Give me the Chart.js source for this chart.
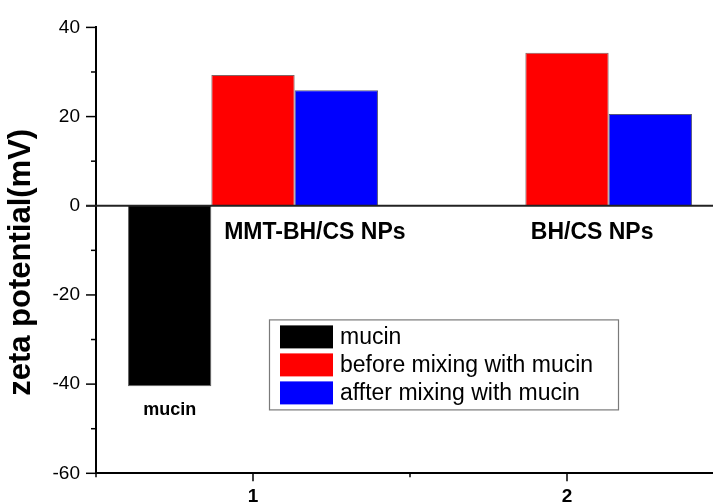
<!DOCTYPE html>
<html>
<head>
<meta charset="utf-8">
<script src="https://cdn.jsdelivr.net/npm/chart.js@4/dist/chart.umd.min.js"></script>
<style>
  html, body { margin: 0; padding: 0; background: #fff; overflow: hidden; width: 713px; height: 503px; }
  canvas { display: block; }
</style>
</head>
<body>
<canvas id="chart" width="740" height="503"></canvas>
<script>
// Zeta potential of mucin and of the two nanoparticle samples before / after mixing with mucin
const groups = ['1', '2'];
const seriesNames = ['mucin', 'before mixing with mucin', 'affter mixing with mucin'];
const mucinValues = [-40.5, null];
const beforeValues = [29.3, 34.3];
const afterValues = [25.9, 20.6];
const yMajorTicks = [-60, -40, -20, 0, 20, 40];
const yMinorTicks = [-50, -30, -10, 10, 30];
const xMinorTicks = [-0.5, 0.5, 1.5];
const sampleLabels = ['MMT-BH/CS NPs', 'BH/CS NPs', 'mucin'];
const sampleLabelAnchors = [[0.197, -7.5], [1.08, -7.5], [-0.265, -47]];

const FONT = '"Liberation Sans", Arial, sans-serif';
const seriesColors = ['#000000', '#ff0000', '#0000ff'];

// tick marks, zero line, in-plot labels, boxed legend and the rotated y title
const decor = {
  id: 'decor',
  afterDraw(chart) {
    const { ctx, chartArea: a, scales: { x, y } } = chart;
    ctx.save();
    ctx.strokeStyle = '#000';
    ctx.lineWidth = 1.5;
    const seg = (x1, y1, x2, y2) => { ctx.beginPath(); ctx.moveTo(x1, y1); ctx.lineTo(x2, y2); ctx.stroke(); };

    yMajorTicks.forEach(v => { const py = y.getPixelForValue(v); seg(a.left - 10, py, a.left, py); });
    yMinorTicks.forEach(v => { const py = y.getPixelForValue(v); seg(a.left - 5, py, a.left, py); });
    groups.forEach((g, i) => { const px = x.getPixelForValue(i); seg(px, a.bottom, px, a.bottom + 8); });
    xMinorTicks.forEach(v => { const px = x.getPixelForValue(v); seg(px, a.bottom, px, a.bottom + 4); });

    // zero reference line
    ctx.strokeStyle = '#222';
    ctx.lineWidth = 2;
    const y0 = y.getPixelForValue(0);
    seg(a.left - 10, y0, a.right, y0);

    // sample names inside the plot
    ctx.fillStyle = '#000';
    ctx.textAlign = 'center';
    ctx.textBaseline = 'alphabetic';
    sampleLabels.forEach((t, i) => {
      const [vx, vy] = sampleLabelAnchors[i];
      ctx.font = (i === 2 ? 'bold 18px ' : 'bold 23px ') + FONT;
      ctx.fillText(t, x.getPixelForValue(vx), y.getPixelForValue(vy));
    });

    // legend box
    const lx = a.left + 173, ly = a.top + 292, lw = 349, lh = 90;
    ctx.fillStyle = '#fff';
    ctx.fillRect(lx, ly, lw, lh);
    ctx.strokeStyle = '#7a7a7a';
    ctx.lineWidth = 1.2;
    ctx.strokeRect(lx + 0.5, ly + 0.5, lw, lh);
    ctx.font = '23px ' + FONT;
    ctx.textAlign = 'left';
    chart.data.datasets.forEach((ds, i) => {
      const sy = ly + 6 + i * 28;
      ctx.fillStyle = ds.backgroundColor;
      ctx.fillRect(lx + 11, sy, 53, 23);
      ctx.fillStyle = '#000';
      ctx.fillText(ds.label, lx + 71, sy + 18.5);
    });

    // y axis title
    ctx.translate(21, (a.top + a.bottom) / 2 + 12);
    ctx.rotate(-Math.PI / 2);
    ctx.font = 'bold 31px ' + FONT;
    ctx.textAlign = 'center';
    ctx.textBaseline = 'middle';
    ctx.fillStyle = '#000';
    ctx.fillText('zeta potential(mV)', 0, 0);
    ctx.restore();
  }
};

new Chart(document.getElementById('chart'), {
  type: 'bar',
  data: {
    labels: groups,
    datasets: [
      { label: seriesNames[0], data: mucinValues, backgroundColor: seriesColors[0], borderColor: 'rgba(80,80,80,0.9)', borderWidth: 1 },
      { label: seriesNames[1], data: beforeValues, backgroundColor: seriesColors[1], borderColor: 'rgba(90,50,50,0.75)', borderWidth: 1 },
      { label: seriesNames[2], data: afterValues, backgroundColor: seriesColors[2], borderColor: 'rgba(30,30,80,0.75)', borderWidth: 1 }
    ]
  },
  options: {
    responsive: false,
    animation: false,
    devicePixelRatio: 1,
    layout: { padding: { top: 23, right: 16, left: 0, bottom: 0 } },
    datasets: { bar: { categoryPercentage: 0.796, barPercentage: 1.0 } },
    plugins: { legend: { display: false }, tooltip: { enabled: false } },
    scales: {
      x: {
        grid: { display: false, drawTicks: false },
        border: { display: true, color: '#000', width: 2 },
        ticks: { color: '#000', font: { family: FONT, size: 19, weight: 'bold' }, padding: 12, maxRotation: 0 },
        afterFit(s) { s.height = 29.7; }
      },
      y: {
        min: -60,
        max: 40,
        grid: { display: false, drawTicks: false },
        border: { display: true, color: '#000', width: 2 },
        ticks: { stepSize: 20, color: '#000', font: { family: FONT, size: 19 }, padding: 16 },
        afterFit(s) { s.width = 96; }
      }
    }
  },
  plugins: [decor]
});
</script>
</body>
</html>
